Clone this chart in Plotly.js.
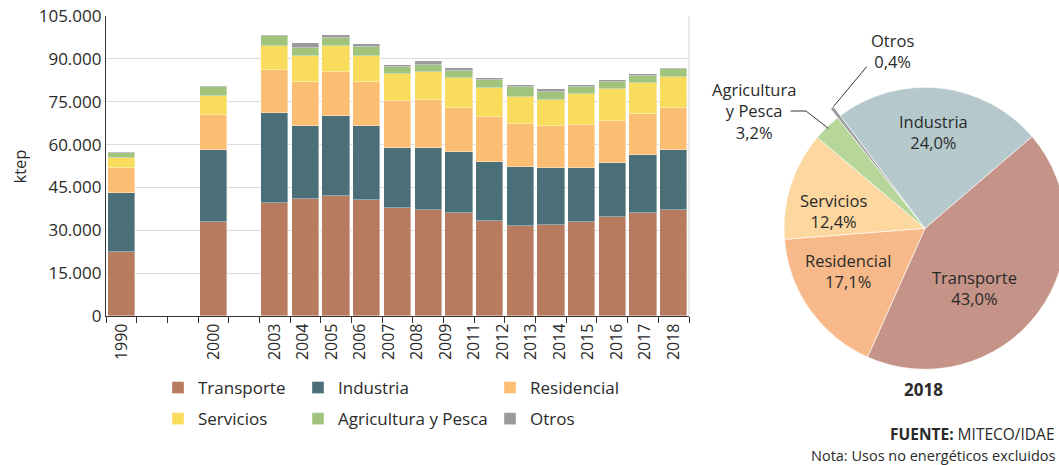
<!DOCTYPE html>
<html>
<head>
<meta charset="utf-8">
<script src="https://cdn.plot.ly/plotly-3.0.1.min.js"></script>
<style>
html,body{margin:0;padding:0;overflow:hidden;background:#fff}
#chart{width:1080px;height:465px}
</style>
</head>
<body>
<div id="chart"></div>
<script>
// ---------------- DATA (ktep) ----------------
// Tick labels exactly as printed under the bars (17 labels)
const years = ['1990','2000','2003','2004','2005','2006','2007','2008','2009','2011','2012','2013','2014','2015','2016','2017','2018'];
// Stacked bars as drawn (16 bars: 1990, 2000 and 14 consecutive bars ending in 2018)
const transporte  = [22500, 33000, 39700, 40800, 42000, 40500, 37900, 37100, 35900, 33300, 31500, 31900, 32900, 34500, 35900, 37200];
const industria   = [20400, 25200, 31200, 25700, 28000, 26000, 21000, 21600, 21600, 20700, 20800, 19800, 19000, 18900, 20500, 20800];
const residencial = [ 8800, 12200, 15200, 15500, 15500, 15500, 16400, 16900, 15400, 15500, 14900, 14800, 15000, 15000, 14300, 14800];
const servicios   = [ 3500,  6700,  8400,  9100,  9000,  9100,  9400,  9900, 10300, 10200,  9600,  9100, 10700, 11100, 11000, 10800];
const agricultura = [ 2000,  2900,  3400,  2600,  2700,  3200,  2400,  2300,  2700,  2900,  3300,  2900,  2400,  2500,  2400,  2700];
const otros       = [  350,   450,   500,  2000,  1200,   800,   800,  1500,   800,   800,   800,   800,   800,   600,   600,   400];
const seriesNames = ['Transporte','Industria','Residencial','Servicios','Agricultura y Pesca','Otros'];

// Pie 2018 (%)
const pieYear   = '2018';
const pieLabels = ['Transporte','Residencial','Servicios','Agricultura y Pesca','Otros','Industria'];
const pieShares = [43.0, 17.1, 12.4, 3.2, 0.4, 24.0];

// ---------------- STYLE / LAYOUT ----------------
const W = 1080, H = 465;
const FONT = '"Open Sans", "Noto Sans", sans-serif';
const TXT = '#2a2a2a';
const px = v => v / W;
const py = v => 1 - v / H;

const barColors = ['#b77b5f','#4a6f78','#fbbe72','#f9dc5b','#a0c47c','#9b9b9b'];
const pieColorMap = {
  'Transporte':'#c59387','Industria':'#b5c9cd','Residencial':'#f8b98a',
  'Servicios':'#fdd7a0','Agricultura y Pesca':'#b7d69a','Otros':'#9a9a9a'
};
const legendOf = ['legend','legend2','legend3','legend','legend2','legend3'];

// Slot layout of the bar axis: 1990 in slot 1, 2000 in slot 4, the rest consecutive from slot 6
const nBars = transporte.length;
const barX = [];
for (let i = 0; i < nBars; i++) barX.push(i === 0 ? 1 : (i === 1 ? 4 : 6 + (i - 2)));
const nSlots = barX[barX.length - 1];
// label positions: first two under their bars, remaining labels spread evenly over the consecutive bars
const nRest = years.length - 2;
const labelPos = years.map((y, i) => i === 0 ? barX[0] : (i === 1 ? barX[1] : 6 + (i - 2) * (nSlots - 6) / (nRest - 1)));
const boundaries = [];
for (let k = 0; k <= nSlots; k++) boundaries.push(k + 0.5);

const seriesValues = [transporte, industria, residencial, servicios, agricultura, otros];
const traces = seriesValues.map((vals, s) => ({
  type: 'bar',
  name: seriesNames[s],
  x: barX,
  y: vals,
  width: 0.89,
  marker: {color: barColors[s], line: {color: 'rgba(255,255,255,0.55)', width: 0.7}},
  legend: legendOf[s],
  legendgroup: 'g' + s,
  hovertemplate: '%{y:,d} ktep<extra>' + seriesNames[s] + '</extra>'
}));

// Pie
const pieDomainSide = 304.6, pieCx = 925, pieCy = 228.3;
traces.push({
  type: 'pie',
  labels: pieLabels,
  values: pieShares,
  sort: false,
  direction: 'clockwise',
  rotation: 49.4,
  textinfo: 'none',
  hoverinfo: 'label+percent',
  showlegend: false,
  pull: pieLabels.map(l => l === 'Otros' ? 0.08 : 0),
  marker: {colors: pieLabels.map(l => pieColorMap[l]), line: {color: '#ffffff', width: 0.6}},
  domain: {
    x: [px(pieCx - pieDomainSide / 2), px(pieCx + pieDomainSide / 2)],
    y: [py(pieCy + pieDomainSide / 2), py(pieCy - pieDomainSide / 2)]
  }
});

// Pie label positions (pixel centres)
const pieLabelPos = {
  'Industria': [933, 132],
  'Transporte': [974, 288],
  'Residencial': [848, 271],
  'Servicios': [833, 211],
  'Otros': [892, 50.5],
  'Agricultura y Pesca': [754, 111]
};
const fmtPct = v => v.toFixed(1).replace('.', ',') + '%';
const annotations = pieLabels.map((l, i) => ({
  xref: 'paper', yref: 'paper',
  x: px(pieLabelPos[l][0]), y: py(pieLabelPos[l][1]),
  xanchor: 'center', yanchor: 'middle', showarrow: false,
  text: l.replace(' y ', '<br>y ') + '<br>' + fmtPct(pieShares[i]),
  font: {size: 16.5, color: TXT, family: FONT}
}));
annotations.push(
  {xref:'paper', yref:'paper', x: px(19), y: py(166.5), textangle: -90, showarrow:false,
   xanchor:'center', yanchor:'middle', text:'ktep', font:{size:16.5, color:TXT, family:FONT}},
  {xref:'paper', yref:'paper', x: px(923), y: py(389.5), showarrow:false,
   xanchor:'center', yanchor:'middle', text:'<b>' + pieYear + '</b>', font:{size:17, color:TXT, family:FONT}},
  {xref:'paper', yref:'paper', x: px(1057), y: py(433.5), showarrow:false,
   xanchor:'right', yanchor:'middle', text:'<b>FUENTE:</b> MITECO/IDAE', font:{size:15.5, color:TXT, family:FONT}},
  {xref:'paper', yref:'paper', x: px(1057), y: py(455), showarrow:false,
   xanchor:'right', yanchor:'middle', text:'Nota: Usos no energéticos excluidos', font:{size:14.5, color:TXT, family:FONT}}
);

const P = (x, y) => px(x) + ',' + py(y);
const shapes = [
  {type:'line', xref:'x domain', yref:'y domain', x0:1, x1:1, y0:0, y1:1, line:{color:'#d6d6d6', width:1}, layer:'below'},
  {type:'path', xref:'paper', yref:'paper', path:'M' + P(866.7, 66.7) + 'L' + P(833.5, 106.5), line:{color:'#333', width:1}},
  {type:'path', xref:'paper', yref:'paper', path:'M' + P(790.5, 111) + 'L' + P(806, 111) + 'L' + P(828.5, 128.5), line:{color:'#333', width:1}}
];

const legendBase = {
  orientation: 'v', xanchor: 'left', yanchor: 'top', y: py(370),
  font: {size: 17, color: TXT, family: FONT}, bgcolor: 'rgba(0,0,0,0)',
  traceorder: 'grouped', tracegroupgap: 6, itemclick: false, itemdoubleclick: false
};

const layout = {
  width: W, height: H,
  margin: {l: 0, r: 0, t: 0, b: 0},
  paper_bgcolor: '#ffffff', plot_bgcolor: 'rgba(0,0,0,0)',
  separators: ',.',
  font: {family: FONT, color: TXT},
  barmode: 'stack', bargap: 0,
  showlegend: true,
  xaxis: {
    domain: [px(106), px(689)], range: [0.5, nSlots + 0.5], type: 'linear',
    tickmode: 'array', tickvals: labelPos, ticktext: years, tickangle: -90,
    ticks: '', showline: true, linecolor: '#333', linewidth: 1.2,
    showgrid: false, zeroline: false, fixedrange: true,
    tickfont: {size: 16, color: TXT, family: FONT},
    minor: {tickmode: 'array', tickvals: boundaries, ticks: 'outside', ticklen: 6, tickwidth: 1, tickcolor: '#333', showgrid: false}
  },
  yaxis: {
    domain: [py(316), py(16)], range: [0, 105000],
    tickmode: 'linear', tick0: 0, dtick: 15000, tickformat: ',d',
    ticks: '', showline: true, linecolor: '#333', linewidth: 1.2,
    showgrid: true, gridcolor: '#dcdcdc', gridwidth: 1, zeroline: false, fixedrange: true,
    tickfont: {size: 17, color: TXT, family: FONT}
  },
  legend: Object.assign({}, legendBase, {x: px(158)}),
  legend2: Object.assign({}, legendBase, {x: px(298)}),
  legend3: Object.assign({}, legendBase, {x: px(490)}),
  shapes: shapes,
  annotations: annotations
};

Plotly.newPlot('chart', traces, layout, {displayModeBar: false, staticPlot: false});
</script>
</body>
</html>
